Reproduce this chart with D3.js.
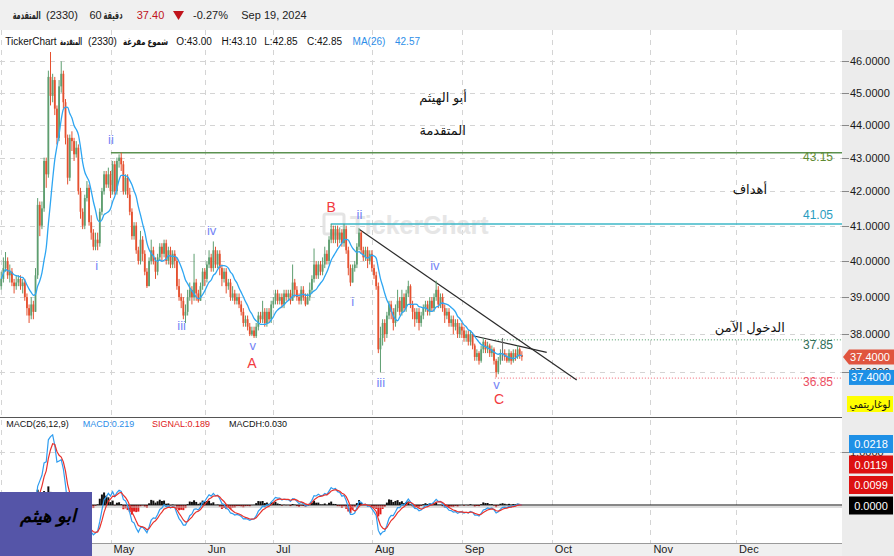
<!DOCTYPE html>
<html>
<head>
<meta charset="utf-8">
<script src="https://cdn.jsdelivr.net/npm/d3@7"></script>
<style>
  html, body { margin: 0; padding: 0; background: #fff; }
  svg { display: block; font-family: Arial, "Liberation Sans", "DejaVu Sans", sans-serif; }
</style>
</head>
<body>
<div id="chart"></div>
<script>
/* global d3 */

// --- Data (2 bars per trading day, May 1 = day 0) ---
const FIRST_DAY = -25.5;
const BARS_PER_DAY = 2;

const open = [
  39.3, 39.5, 39.8, 40.0, 39.6, 39.7, 39.4, 39.3, 39.4, 39.5,
  39.3, 39.4, 39.0, 38.7, 38.5, 38.8, 38.6, 39.6, 41.6, 41.0,
  41.5, 42.9, 42.5, 45.5, 44.9, 45.4, 44.5, 43.6, 45.2, 45.6,
  44.7, 43.6, 42.4, 43.6, 43.5, 43.1, 43.3, 42.0, 41.4, 41.0,
  41.8, 42.1, 41.1, 40.8, 40.4, 40.6, 40.5, 41.4, 42.0, 42.5,
  42.2, 42.5, 42.0, 42.8, 42.0, 42.9, 43.0, 42.8, 42.0, 42.4,
  41.9, 41.4, 40.7, 41.0, 40.3, 40.0, 40.6, 40.2, 39.7, 39.3,
  40.0, 40.3, 40.0, 39.7, 40.1, 40.4, 40.2, 40.5, 40.0, 40.3,
  39.9, 40.2, 40.0, 39.3, 39.0, 38.9, 38.5, 38.6, 39.0, 39.2,
  39.0, 39.4, 39.1, 38.9, 39.3, 39.7, 39.5, 39.9, 40.1, 39.8,
  40.3, 39.9, 40.2, 39.8, 39.5, 39.7, 39.3, 39.4, 39.0, 39.1,
  38.9, 39.0, 38.8, 38.6, 38.3, 38.4, 38.2, 38.0, 38.1, 37.95,
  38.2, 38.5, 38.4, 38.6, 38.3, 38.6, 38.4, 38.8, 38.9, 39.1,
  38.9, 39.0, 38.8, 39.1, 39.0, 39.1, 38.9, 39.4, 39.2, 39.0,
  38.9, 39.2, 39.0, 38.8, 39.0, 39.2, 39.5, 39.9, 39.6, 39.9,
  39.7, 39.9, 40.2, 40.0, 40.6, 40.9, 40.6, 40.9, 40.6, 40.8,
  40.5, 40.9, 40.3, 39.8, 39.4, 39.8, 39.9, 40.4, 40.8, 40.3,
  40.1, 40.3, 40.0, 40.2, 39.8, 39.6, 39.3, 37.6, 37.9, 38.3,
  38.0, 38.5, 38.8, 38.6, 38.3, 38.7, 38.9, 38.6, 39.0, 38.7,
  39.1, 39.3, 38.8, 38.6, 38.4, 38.6, 38.3, 38.5, 38.7, 38.8,
  38.6, 38.9, 38.7, 39.0, 39.2, 38.8, 39.0, 38.7, 38.5, 38.6,
  38.3, 38.4, 38.2, 38.3, 38.0, 38.2, 38.1, 37.9, 38.0, 37.8,
  38.0, 37.7, 37.4, 37.5, 37.3, 37.6, 37.8, 37.6, 37.7, 37.5,
  37.6, 37.3, 37.0, 37.3, 37.5, 37.5, 37.4, 37.3, 37.5, 37.3,
  37.5, 37.4, 37.6, 37.45
];
const high = [
  39.7, 40.1, 40.25, 40.1, 39.9, 39.8, 39.5, 39.6, 39.6, 39.6,
  39.5, 39.5, 39.1, 38.8, 39.0, 38.9, 39.8, 41.8, 41.7, 41.7,
  43.0, 43.0, 45.7, 46.3, 45.6, 45.5, 44.6, 45.4, 46.0, 45.7,
  44.8, 43.7, 43.7, 43.8, 43.6, 43.5, 43.4, 42.1, 41.5, 41.9,
  42.3, 42.2, 41.3, 40.9, 40.8, 40.8, 41.5, 42.1, 42.6, 42.6,
  42.7, 42.6, 42.9, 42.9, 43.0, 43.1, 43.15, 42.9, 42.5, 42.5,
  42.1, 41.5, 41.1, 41.1, 40.4, 40.85, 40.7, 40.3, 39.8, 40.1,
  40.6, 40.4, 40.1, 40.2, 40.5, 40.5, 40.6, 40.6, 40.4, 40.4,
  40.3, 40.3, 40.1, 39.5, 39.1, 39.0, 38.8, 39.2, 39.4, 39.3,
  40.2, 39.5, 39.2, 39.4, 39.8, 39.8, 40.0, 40.3, 40.2, 40.55,
  40.4, 40.3, 40.3, 39.9, 39.8, 39.8, 39.5, 39.5, 39.3, 39.2,
  39.1, 39.1, 38.9, 38.7, 38.5, 38.5, 38.3, 38.2, 38.2, 38.3,
  38.6, 38.6, 38.9, 38.7, 38.7, 38.7, 38.9, 39.0, 39.2, 39.2,
  39.1, 39.1, 39.2, 39.2, 39.2, 39.2, 39.9, 39.5, 39.3, 39.1,
  39.3, 39.3, 39.1, 39.1, 39.4, 39.6, 40.35, 40.0, 40.0, 40.0,
  40.1, 40.4, 40.3, 40.7, 41.05, 41.0, 41.0, 41.0, 40.95, 40.9,
  41.05, 41.0, 40.4, 39.9, 39.9, 40.0, 40.5, 40.93, 40.85, 40.4,
  40.4, 40.4, 40.3, 40.3, 39.9, 39.7, 39.4, 38.2, 38.4, 38.4,
  38.6, 38.9, 38.9, 38.7, 38.8, 39.2, 39.0, 39.2, 39.1, 39.2,
  39.45, 39.35, 38.9, 38.7, 38.7, 38.7, 38.6, 38.8, 38.9, 38.9,
  39.0, 39.0, 39.1, 39.45, 39.3, 39.1, 39.1, 38.8, 38.7, 38.7,
  38.5, 38.5, 38.4, 38.4, 38.3, 38.3, 38.2, 38.1, 38.1, 38.1,
  38.05, 37.75, 37.6, 37.55, 37.7, 37.9, 37.85, 37.8, 37.75, 37.7,
  37.65, 37.35, 37.4, 37.6, 37.9, 37.6, 37.5, 37.6, 37.55, 37.6,
  37.6, 37.7, 37.65, 37.55
];
const low = [
  39.2, 39.4, 39.7, 39.5, 39.4, 39.3, 39.1, 39.2, 39.3, 39.2,
  39.1, 38.9, 38.5, 38.3, 38.4, 38.4, 38.6, 39.5, 40.7, 40.9,
  41.4, 42.1, 42.4, 44.6, 44.7, 44.3, 43.4, 43.5, 45.0, 44.5,
  43.4, 42.2, 42.3, 43.2, 42.9, 43.0, 41.9, 41.2, 40.9, 40.9,
  41.7, 41.0, 40.6, 40.3, 40.3, 40.3, 40.4, 41.3, 41.9, 42.1,
  42.1, 41.8, 41.9, 41.9, 41.9, 42.7, 42.6, 41.9, 41.9, 41.8,
  41.3, 40.6, 40.6, 40.2, 39.9, 39.9, 40.0, 39.6, 39.25, 39.3,
  39.9, 39.9, 39.5, 39.6, 40.0, 40.0, 40.1, 39.9, 39.9, 39.8,
  39.8, 39.8, 39.2, 38.9, 38.7, 38.4, 38.3, 38.5, 38.9, 38.8,
  38.9, 38.9, 38.85, 38.9, 39.2, 39.3, 39.4, 39.8, 39.7, 39.7,
  39.8, 39.8, 39.6, 39.3, 39.4, 39.1, 39.2, 38.9, 38.9, 38.8,
  38.8, 38.7, 38.5, 38.2, 38.2, 38.1, 37.95, 37.95, 37.9, 37.9,
  38.1, 38.3, 38.3, 38.2, 38.2, 38.3, 38.3, 38.7, 38.8, 38.8,
  38.8, 38.7, 38.7, 38.9, 38.9, 38.8, 38.9, 39.0, 38.9, 38.8,
  38.8, 38.9, 38.75, 38.8, 38.9, 39.1, 39.4, 39.5, 39.5, 39.6,
  39.6, 39.8, 39.9, 39.9, 40.5, 40.5, 40.5, 40.4, 40.5, 40.4,
  40.4, 40.2, 39.6, 39.3, 39.4, 39.7, 39.8, 40.3, 40.2, 40.0,
  40.0, 39.8, 39.9, 39.7, 39.5, 39.2, 37.5, 37.0, 37.7, 37.8,
  37.9, 38.4, 38.4, 38.1, 38.2, 38.6, 38.5, 38.5, 38.6, 38.6,
  39.0, 38.7, 38.4, 38.2, 38.3, 38.1, 38.2, 38.4, 38.6, 38.5,
  38.5, 38.6, 38.6, 38.9, 38.7, 38.7, 38.6, 38.3, 38.4, 38.2,
  38.2, 38.0, 38.1, 37.9, 37.9, 37.9, 37.8, 37.8, 37.7, 37.7,
  37.6, 37.3, 37.3, 37.2, 37.25, 37.5, 37.5, 37.5, 37.4, 37.4,
  37.2, 36.87, 36.95, 37.2, 37.3, 37.3, 37.25, 37.25, 37.2, 37.25,
  37.3, 37.35, 37.35, 37.3
];
const close = [
  39.5, 39.8, 40.0, 39.6, 39.7, 39.4, 39.3, 39.4, 39.5, 39.3,
  39.4, 39.0, 38.7, 38.5, 38.8, 38.6, 39.6, 41.6, 41.0, 41.5,
  42.9, 42.5, 45.5, 44.9, 45.4, 44.5, 43.6, 45.2, 45.6, 44.7,
  43.6, 42.4, 43.6, 43.5, 43.1, 43.3, 42.0, 41.4, 41.0, 41.8,
  42.1, 41.1, 40.8, 40.4, 40.6, 40.5, 41.4, 42.0, 42.5, 42.2,
  42.5, 42.0, 42.8, 42.0, 42.9, 43.0, 42.8, 42.0, 42.4, 41.9,
  41.4, 40.7, 41.0, 40.3, 40.0, 40.6, 40.2, 39.7, 39.3, 40.0,
  40.3, 40.0, 39.7, 40.1, 40.4, 40.2, 40.5, 40.0, 40.3, 39.9,
  40.2, 40.0, 39.3, 39.0, 38.9, 38.5, 38.6, 39.0, 39.2, 39.0,
  39.4, 39.1, 38.9, 39.3, 39.7, 39.5, 39.9, 40.1, 39.8, 40.3,
  39.9, 40.2, 39.8, 39.5, 39.7, 39.3, 39.4, 39.0, 39.1, 38.9,
  39.0, 38.8, 38.6, 38.3, 38.4, 38.2, 38.0, 38.1, 37.95, 38.2,
  38.5, 38.4, 38.6, 38.3, 38.6, 38.4, 38.8, 38.9, 39.1, 38.9,
  39.0, 38.8, 39.1, 39.0, 39.1, 38.9, 39.4, 39.2, 39.0, 38.9,
  39.2, 39.0, 38.8, 39.0, 39.2, 39.5, 39.9, 39.6, 39.9, 39.7,
  39.9, 40.2, 40.0, 40.6, 40.9, 40.6, 40.9, 40.6, 40.8, 40.5,
  40.9, 40.3, 39.8, 39.4, 39.8, 39.9, 40.4, 40.8, 40.3, 40.1,
  40.3, 40.0, 40.2, 39.8, 39.6, 39.3, 37.6, 37.9, 38.3, 38.0,
  38.5, 38.8, 38.6, 38.3, 38.7, 38.9, 38.6, 39.0, 38.7, 39.1,
  39.3, 38.8, 38.6, 38.4, 38.6, 38.3, 38.5, 38.7, 38.8, 38.6,
  38.9, 38.7, 39.0, 39.2, 38.8, 39.0, 38.7, 38.5, 38.6, 38.3,
  38.4, 38.2, 38.3, 38.0, 38.2, 38.1, 37.9, 38.0, 37.8, 38.0,
  37.7, 37.4, 37.5, 37.3, 37.6, 37.8, 37.6, 37.7, 37.5, 37.6,
  37.3, 37.0, 37.3, 37.5, 37.5, 37.4, 37.3, 37.5, 37.3, 37.5,
  37.4, 37.6, 37.45, 37.4
];

// Axis ticks
const priceTicks = [37, 38, 39, 40, 41, 42, 43, 44, 45, 46];
const monthDays = [-25.5, 0, 22, 38, 61, 82, 103, 126, 146];
const monthLabels = ["Apr", "May", "Jun", "Jul", "Aug", "Sep", "Oct", "Nov", "Dec"];

// Horizontal levels (targets / safe entry / stop)
const levelPrices = [43.15, 41.05, 37.85, 36.85];
const levelStartDays = [0.1, 51.4, 89.7, 89.7];

// Trend lines: [startDay, startPrice, endDay, endPrice]
const trendLines = [
  [58.1, 40.89, 108.8, 36.80],
  [84.6, 37.96, 101.8, 37.52]
];

// Elliott wave labels
const waveLabels = ["ii", "i", "iii", "iv", "v", "A", "B", "ii", "i", "iii", "iv", "v", "C"];
const waveDays = [0.12, -3.22, 16.6, 23.6, 33.2, 33.0, 51.5, 58.1, 56.5, 63.06, 75.7, 90.1, 90.7];
const wavePrices = [43.56, 39.86, 38.23, 40.85, 37.69, 37.25, 41.55, 41.31, 38.88, 36.73, 39.86, 36.69, 36.31];

// Arabic notes on the chart
const noteTexts = ["أبو الهيثم", "المتقدمة", "أهداف", "الدخول الآمن"];
const noteDays = [77.6, 77.5, 149.2, 149.2];
const notePrices = [44.86, 43.84, 42.04, 38.17];

// --- Layout constants ---
const W = 894, H = 556;
const PLOT_RIGHT = 842;
const PRICE_TOP = 30, PRICE_BOTTOM = 417;
const MACD_TOP = 417, MACD_BOTTOM = 543;
const UP = "#5e9e70", DOWN = "#e5502f", FLAT = "#6a6a6a";

// --- Indicators (MA and MACD periods scaled to 2 bars/day from the hourly original) ---
const MA_WINDOW = 10;
const ma = close.map((_, i) => d3.mean(close.slice(Math.max(0, i - MA_WINDOW + 1), i + 1)));

function ema(values, n) {
    const k = 2 / (n + 1);
    let prev = values[0];
    return values.map((v, i) => (i === 0 ? prev : (prev = prev + k * (v - prev))));
}
const emaFast = ema(close, 5);
const emaSlow = ema(close, 10);
const macd = close.map((_, i) => emaFast[i] - emaSlow[i]);
const signal = ema(macd, 4);
const hist = macd.map((m, i) => m - signal[i]);

const barDay = i => FIRST_DAY + i / BARS_PER_DAY;

// --- Scales ---
const x = d3.scaleLinear().domain([0, 100]).range([110.5, 110.5 + 428.5]);
const y = d3.scaleLog().domain([37, 46]).range([372.3, 61.3]);
const yM = d3.scaleLinear().domain([0, 1]).range([505, 452]);

// --- SVG ---
const svg = d3.select("#chart").append("svg")
    .attr("width", W)
    .attr("height", H)
    .attr("viewBox", [0, 0, W, H]);

const defs = svg.append("defs");
defs.append("clipPath").attr("id", "clip-price").append("rect")
    .attr("x", 0).attr("y", PRICE_TOP).attr("width", PLOT_RIGHT).attr("height", PRICE_BOTTOM - PRICE_TOP);
defs.append("clipPath").attr("id", "clip-macd").append("rect")
    .attr("x", 0).attr("y", MACD_TOP).attr("width", PLOT_RIGHT).attr("height", MACD_BOTTOM - MACD_TOP);

// Backgrounds
svg.append("rect").attr("width", W).attr("height", H).attr("fill", "#fff");
svg.append("rect").attr("x", 0).attr("y", 0).attr("width", W).attr("height", PRICE_TOP).attr("fill", "#f0f0f0");
svg.append("rect").attr("x", PLOT_RIGHT).attr("y", PRICE_TOP).attr("width", W - PLOT_RIGHT).attr("height", H - PRICE_TOP).attr("fill", "#ececec");
svg.append("rect").attr("x", 0).attr("y", MACD_BOTTOM).attr("width", PLOT_RIGHT).attr("height", H - MACD_BOTTOM).attr("fill", "#f0f0f0");

// --- Grid ---
const grid = svg.append("g").attr("stroke", "#d4d4d4").attr("stroke-dasharray", "5,5").attr("stroke-width", 1);
grid.selectAll(".hgrid").data(priceTicks).join("line").attr("class", "hgrid")
    .attr("x1", 0).attr("x2", PLOT_RIGHT)
    .attr("y1", d => Math.round(y(d)) + 0.5).attr("y2", d => Math.round(y(d)) + 0.5);
grid.selectAll(".vgrid").data(monthDays).join("line").attr("class", "vgrid")
    .attr("x1", d => Math.round(x(d)) + 0.5).attr("x2", d => Math.round(x(d)) + 0.5)
    .attr("y1", PRICE_TOP).attr("y2", MACD_BOTTOM);
grid.append("line")
    .attr("x1", 0).attr("x2", PLOT_RIGHT)
    .attr("y1", Math.round(yM(1)) + 0.5).attr("y2", Math.round(yM(1)) + 0.5);

// --- Watermark ---
const wm = svg.append("g").attr("opacity", 0.9);
wm.append("rect").attr("x", 324).attr("y", 214).attr("width", 20).attr("height", 20)
    .attr("rx", 2).attr("fill", "none").attr("stroke", "#e2e2e2").attr("stroke-width", 3);
wm.append("text").attr("x", 350).attr("y", 234)
    .attr("font-size", 25).attr("font-weight", "bold").attr("fill", "#e4e4e4")
    .text("TickerChart");

// --- Price panel ---
const pricePanel = svg.append("g").attr("clip-path", "url(#clip-price)");

// Level lines
const levelColors = ["#5b9150", "#3cb7c7", "#4a9a62", "#f06070"];
const levelText = ["#5f8a32", "#2a9cc0", "#2f6e58", "#ec5064"];
const levelDash = [null, null, "1,2", "1,2"];
const levelWidth = [1.5, 1.5, 1, 1];
const levelLabelDy = [8, -5, 9, 8];
pricePanel.selectAll(".level").data(levelPrices).join("line").attr("class", "level")
    .attr("x1", (d, i) => x(levelStartDays[i])).attr("x2", PLOT_RIGHT)
    .attr("y1", d => y(d)).attr("y2", d => y(d))
    .attr("stroke", (d, i) => levelColors[i])
    .attr("stroke-width", (d, i) => levelWidth[i])
    .attr("stroke-dasharray", (d, i) => levelDash[i]);
pricePanel.selectAll(".levelLabel").data(levelPrices).join("text").attr("class", "levelLabel")
    .attr("x", 833).attr("y", (d, i) => y(d) + levelLabelDy[i])
    .attr("text-anchor", "end").attr("font-size", 12)
    .attr("fill", (d, i) => levelText[i])
    .text(d => d.toFixed(2));

// Trend lines
pricePanel.selectAll(".trend").data(trendLines).join("line").attr("class", "trend")
    .attr("x1", d => x(d[0])).attr("y1", d => y(d[1]))
    .attr("x2", d => x(d[2])).attr("y2", d => y(d[3]))
    .attr("stroke", "#2a2a2a").attr("stroke-width", 1.2);

// Candles
const bars = d3.range(close.length).map(i => ({ i, o: open[i], h: high[i], l: low[i], c: close[i] }));
const candleColor = d => (d.c > d.o ? UP : d.c < d.o ? DOWN : FLAT);
const candles = pricePanel.append("g").selectAll("g").data(bars).join("g");
candles.append("line")
    .attr("x1", d => x(barDay(d.i))).attr("x2", d => x(barDay(d.i)))
    .attr("y1", d => y(d.h)).attr("y2", d => y(d.l))
    .attr("stroke", candleColor).attr("stroke-width", 1);
candles.append("rect")
    .attr("x", d => x(barDay(d.i)) - 0.9)
    .attr("width", 1.8)
    .attr("y", d => y(Math.max(d.o, d.c)))
    .attr("height", d => Math.max(1, Math.abs(y(d.o) - y(d.c))))
    .attr("fill", candleColor);

// Moving average
pricePanel.append("path")
    .datum(ma)
    .attr("fill", "none").attr("stroke", "#2ea6f2").attr("stroke-width", 1.3)
    .attr("d", d3.line().x((d, i) => x(barDay(i))).y(d => y(d)).curve(d3.curveMonotoneX));

// Wave labels
pricePanel.selectAll(".wave").data(waveLabels).join("text").attr("class", "wave")
    .attr("x", (d, i) => x(waveDays[i])).attr("y", (d, i) => y(wavePrices[i]))
    .attr("dy", "0.35em").attr("text-anchor", "middle")
    .attr("font-size", d => (/^[ABC]$/.test(d) ? 14 : 13))
    .attr("fill", d => (/^[ABC]$/.test(d) ? "#f23b3f" : "#7484f6"))
    .text(d => d);

// Arabic notes
pricePanel.selectAll(".note").data(noteTexts).join("text").attr("class", "note")
    .attr("x", (d, i) => x(noteDays[i])).attr("y", (d, i) => y(notePrices[i]))
    .attr("dy", "0.35em").attr("text-anchor", "middle")
    .attr("font-size", 13).attr("fill", "#111")
    .text(d => d);

// Panel separator
svg.append("line").attr("x1", 0).attr("x2", PLOT_RIGHT).attr("y1", PRICE_BOTTOM + 0.5).attr("y2", PRICE_BOTTOM + 0.5)
    .attr("stroke", "#555").attr("stroke-width", 1);

// --- MACD panel ---
const macdPanel = svg.append("g").attr("clip-path", "url(#clip-macd)");
macdPanel.selectAll(".hist").data(hist).join("rect").attr("class", "hist")
    .attr("x", (d, i) => x(barDay(i)) - 1)
    .attr("width", 2)
    .attr("y", d => Math.min(yM(0), yM(d)))
    .attr("height", d => Math.abs(yM(d) - yM(0)))
    .attr("fill", d => (d >= 0 ? "#111" : "#e01b1b"));
macdPanel.append("line").attr("x1", 0).attr("x2", PLOT_RIGHT).attr("y1", yM(0) + 2).attr("y2", yM(0) + 2)
    .attr("stroke", "#bbb").attr("stroke-width", 1);
macdPanel.append("line").attr("x1", 0).attr("x2", PLOT_RIGHT).attr("y1", yM(0)).attr("y2", yM(0))
    .attr("stroke", "#111").attr("stroke-width", 1.2);
const macdLine = d3.line().x((d, i) => x(barDay(i))).y(d => yM(d));
macdPanel.append("path").datum(macd)
    .attr("fill", "none").attr("stroke", "#2f9df0").attr("stroke-width", 1.2).attr("d", macdLine);
macdPanel.append("path").datum(signal)
    .attr("fill", "none").attr("stroke", "#e8322c").attr("stroke-width", 1.2).attr("d", macdLine);

svg.append("line").attr("x1", 0).attr("x2", PLOT_RIGHT).attr("y1", MACD_BOTTOM + 0.5).attr("y2", MACD_BOTTOM + 0.5)
    .attr("stroke", "#9a9a9a").attr("stroke-width", 1);

// --- Right axis ---
const axisG = svg.append("g");
axisG.selectAll(".ptick").data(priceTicks).join("line").attr("class", "ptick")
    .attr("x1", PLOT_RIGHT).attr("x2", PLOT_RIGHT + 7)
    .attr("y1", d => Math.round(y(d)) + 0.5).attr("y2", d => Math.round(y(d)) + 0.5)
    .attr("stroke", "#888");
axisG.selectAll(".plabel").data(priceTicks).join("text").attr("class", "plabel")
    .attr("x", PLOT_RIGHT + 8).attr("y", d => y(d) + 4)
    .attr("font-size", 11).attr("fill", "#1a1a1a")
    .text(d => d.toFixed(4));
axisG.append("line").attr("x1", PLOT_RIGHT).attr("x2", PLOT_RIGHT + 7)
    .attr("y1", Math.round(yM(1)) + 0.5).attr("y2", Math.round(yM(1)) + 0.5).attr("stroke", "#888");
axisG.append("text").attr("x", PLOT_RIGHT + 8).attr("y", yM(1) + 4)
    .attr("font-size", 11).attr("fill", "#1a1a1a").text("1.0000");

// Last price tag (red) and blue value box
const lastClose = close[close.length - 1];
const ty = y(lastClose);
axisG.append("path")
    .attr("d", `M${PLOT_RIGHT + 1},${ty} L${PLOT_RIGHT + 7},${ty - 7.5} L${W},${ty - 7.5} L${W},${ty + 7.5} L${PLOT_RIGHT + 7},${ty + 7.5} Z`)
    .attr("fill", "#e0553f");
axisG.append("text").attr("x", 870).attr("y", ty + 4).attr("text-anchor", "middle")
    .attr("font-size", 11).attr("fill", "#fff").text(lastClose.toFixed(4));
axisG.append("rect").attr("x", 849).attr("y", ty + 13).attr("width", 45).attr("height", 15).attr("fill", "#1e90e6");
axisG.append("text").attr("x", 871).attr("y", ty + 24.5).attr("text-anchor", "middle")
    .attr("font-size", 11).attr("fill", "#fff").text(lastClose.toFixed(4));

// Log-scale badge
axisG.append("rect").attr("x", 847).attr("y", 396).attr("width", 46).attr("height", 16).attr("fill", "#ffff00");
axisG.append("text").attr("x", 870).attr("y", 408).attr("text-anchor", "middle")
    .attr("font-size", 11).attr("fill", "#111")
    .attr("textLength", 41).attr("lengthAdjust", "spacingAndGlyphs")
    .text("لوغاريتمي");

// MACD value boxes
const macdBoxTexts = ["0.0218", "0.0119", "0.0099", "0.0000"];
const macdBoxColors = ["#1e90e6", "#dd1111", "#dd1111", "#000"];
const macdBoxY = [435, 455.5, 476, 496.5];
axisG.selectAll(".mbox").data(macdBoxTexts).join("rect").attr("class", "mbox")
    .attr("x", 849).attr("y", (d, i) => macdBoxY[i]).attr("width", 44).attr("height", 18)
    .attr("fill", (d, i) => macdBoxColors[i]);
axisG.selectAll(".mboxText").data(macdBoxTexts).join("text").attr("class", "mboxText")
    .attr("x", 871).attr("y", (d, i) => macdBoxY[i] + 13).attr("text-anchor", "middle")
    .attr("font-size", 11).attr("fill", "#fff").text(d => d);

// --- X axis ---
svg.selectAll(".xlabel").data(monthLabels).join("text").attr("class", "xlabel")
    .attr("x", (d, i) => x(monthDays[i]) + 3).attr("y", 553)
    .attr("font-size", 11).attr("fill", "#222")
    .text(d => d);

// --- Header / legends: [text, centre x, colour, width of Arabic runs] ---
function textRow(parent, items, yPos) {
    items.forEach(([t, cx, col, len]) => {
        const el = parent.append("text").attr("x", cx).attr("y", yPos).attr("fill", col).text(t);
        if (len) {
            el.attr("textLength", len).attr("lengthAdjust", "spacingAndGlyphs").attr("font-weight", "bold");
        }
    });
}

const header = svg.append("g").attr("font-size", 11).attr("text-anchor", "middle");
textRow(header, [
    ["المتقدمة", 26.7, "#222", 28], ["(2330)", 62, "#222"], ["60", 95.5, "#222"], ["دقيقة", 113, "#222", 19],
    ["37.40", 150.5, "#c0141c"], ["-0.27%", 210.5, "#222"], ["Sep 19, 2024", 274, "#222"]
], 19);
header.append("path").attr("d", "M173,11 L184,11 L178.5,20 Z").attr("fill", "#c0141c");

const legend = svg.append("g").attr("font-size", 10).attr("text-anchor", "middle");
textRow(legend, [
    ["TickerChart", 31, "#111"], ["المتقدمة", 71, "#111", 22], ["(2330)", 102.5, "#111"],
    ["شموع مفرغة", 145.5, "#111", 45], ["O:43.00", 194, "#111"], ["H:43.10", 239, "#111"],
    ["L:42.85", 281, "#111"], ["C:42.85", 324.5, "#111"], ["MA(26)", 369, "#2e8ee8"], ["42.57", 407.5, "#2e8ee8"]
], 45);

const macdLegend = svg.append("g").attr("font-size", 9).attr("text-anchor", "middle");
textRow(macdLegend, [
    ["MACD(26,12,9)", 37.5, "#111"], ["MACD:0.219", 108.5, "#2e8ee8"],
    ["SIGNAL:0.189", 181, "#e02020"], ["MACDH:0.030", 258, "#111"]
], 427);

// --- Logo box ---
svg.append("rect").attr("x", 0).attr("y", 492).attr("width", 92).attr("height", 64).attr("fill", "#5555a8");
svg.append("text").attr("x", 48).attr("y", 522).attr("text-anchor", "middle")
    .attr("font-size", 18).attr("font-weight", "bold").attr("font-style", "italic")
    .attr("font-family", "'DejaVu Serif', serif").attr("fill", "#000")
    .text("ابو هيثم");
</script>
</body>
</html>
